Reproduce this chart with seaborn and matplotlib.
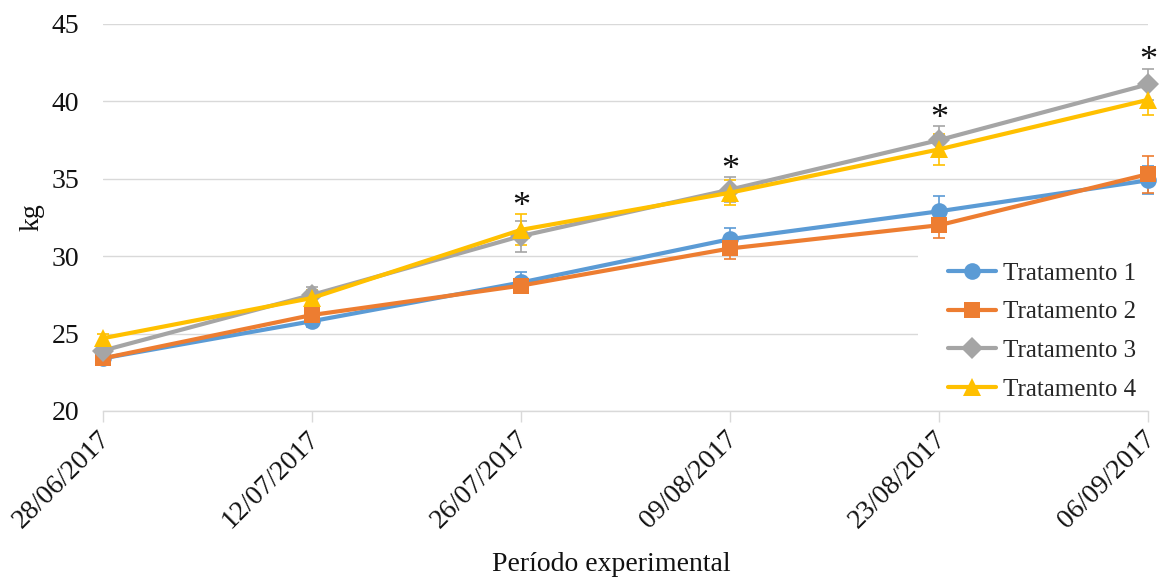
import numpy as np
import pandas as pd
import matplotlib
matplotlib.use("Agg")
import matplotlib.pyplot as plt
from matplotlib.patches import Rectangle
from matplotlib.transforms import ScaledTranslation
import seaborn as sns

# Sampling dates
datas = ["28/06/2017", "12/07/2017", "26/07/2017", "09/08/2017", "23/08/2017", "06/09/2017"]

# Mean body weight (kg) per treatment
trat1 = [23.4, 25.8, 28.3, 31.1, 32.9, 34.9]
trat2 = [23.4, 26.2, 28.1, 30.5, 32.0, 35.3]
trat3 = [23.9, 27.5, 31.3, 34.3, 37.5, 41.1]
trat4 = [24.7, 27.3, 31.7, 34.1, 36.9, 40.1]

# Standard errors
ep1 = [0.3, 0.4, 0.7, 0.7, 1.0, 0.9]
ep2 = [0.3, 0.4, 0.5, 0.7, 0.8, 1.2]
ep3 = [0.3, 0.5, 1.0, 0.8, 0.9, 1.0]
ep4 = [0.3, 0.5, 1.0, 0.8, 1.0, 1.0]

# Dates with significant differences
signif = ["26/07/2017", "09/08/2017", "23/08/2017", "06/09/2017"]

nomes = ["Tratamento 1", "Tratamento 2", "Tratamento 3", "Tratamento 4"]
cores = ["#5B9BD5", "#ED7D31", "#A5A5A5", "#FFC000"]
marcadores = ["o", "s", "D", "^"]
tamanhos = [12, 12, 11, 13]

series = [trat1, trat2, trat3, trat4]
erros = [ep1, ep2, ep3, ep4]

df = pd.DataFrame({
    "data": np.tile(datas, 4),
    "peso": np.concatenate(series),
    "ep": np.concatenate(erros),
    "trat": np.repeat(nomes, len(datas)),
})

sns.set_theme(style="white")
plt.rcParams["font.family"] = ["Liberation Serif", "DejaVu Serif"]

fig = plt.figure(figsize=(11.6, 5.79), dpi=100)
ax = fig.add_axes([0.0888, 0.2902, 0.9009, 0.6684])

pos = {d: i for i, d in enumerate(datas)}

for nome, cor in zip(nomes, cores):
    sub = df[df["trat"] == nome]
    xs = sub["data"].map(pos).to_numpy()
    ax.errorbar(xs, sub["peso"], yerr=sub["ep"], fmt="none", ecolor=cor,
                elinewidth=1.2, capsize=4, capthick=1.2, zorder=2, clip_on=False)

sns.lineplot(data=df, x="data", y="peso", hue="trat", style="trat",
             palette=dict(zip(nomes, cores)),
             markers=dict(zip(nomes, marcadores)),
             dashes=False, linewidth=3.0, markersize=12,
             markeredgewidth=0, ax=ax, legend=False, zorder=3, clip_on=False)

for line, ms in zip(ax.get_lines()[-4:], tamanhos):
    line.set_markersize(ms)
    line.set_clip_on(False)

# Significance markers just above the highest bar of each date
for d in signif:
    i = pos[d]
    topo = max(s[i] + e[i] for s, e in zip(series, erros))
    ax.text(i, topo + 0.45, "*", ha="center", va="center", fontsize=26,
            color="#111111")

ax.set_xlim(0, len(datas) - 1)
ax.set_ylim(20, 45)
ax.set_yticks(range(20, 46, 5))
ax.set_xticks(range(len(datas)))
ax.set_xticklabels(datas, rotation=45, ha="right", rotation_mode="anchor")
ax.grid(axis="y", color="#D9D9D9", linewidth=1)
ax.set_axisbelow(True)

for s in ["top", "right", "left"]:
    ax.spines[s].set_visible(False)
ax.spines["bottom"].set_color("#D9D9D9")
ax.spines["bottom"].set_linewidth(1)
ax.tick_params(axis="x", which="major", length=8, color="#D9D9D9", width=1,
               labelsize=20, pad=3, bottom=True)
ax.tick_params(axis="y", length=0, labelsize=20, pad=17)
for t in ax.get_yticklabels() + ax.get_xticklabels():
    t.set_color("#111111")
deslocamento = ScaledTranslation(-4 / 72, 0, fig.dpi_scale_trans)
for t in ax.get_xticklabels():
    t.set_transform(t.get_transform() + deslocamento)

ax.set_xlabel("Período experimental", fontsize=20, color="#111111")
ax.xaxis.set_label_coords(0.486, -0.365)
ax.set_ylabel("kg", fontsize=20, color="#111111")
ax.yaxis.set_label_coords(-0.056, 0.5)

# White panel behind the legend
ax.add_patch(Rectangle((0.78, 0.02), 0.25, 0.40, transform=ax.transAxes,
                       facecolor="white", edgecolor="none", zorder=1,
                       clip_on=False))

handles = [plt.Line2D([], [], color=c, marker=m, markersize=ms, linewidth=3.0,
                      markeredgewidth=0)
           for c, m, ms in zip(cores, marcadores, tamanhos)]
leg = ax.legend(handles, nomes, loc="center left",
                bbox_to_anchor=(0.7915, 0.2055), frameon=False,
                fontsize=18, handlelength=1.95, handletextpad=0.25,
                labelspacing=0.65, borderpad=0.2)
leg.set_zorder(5)

fig.savefig("out.png", dpi=100)
